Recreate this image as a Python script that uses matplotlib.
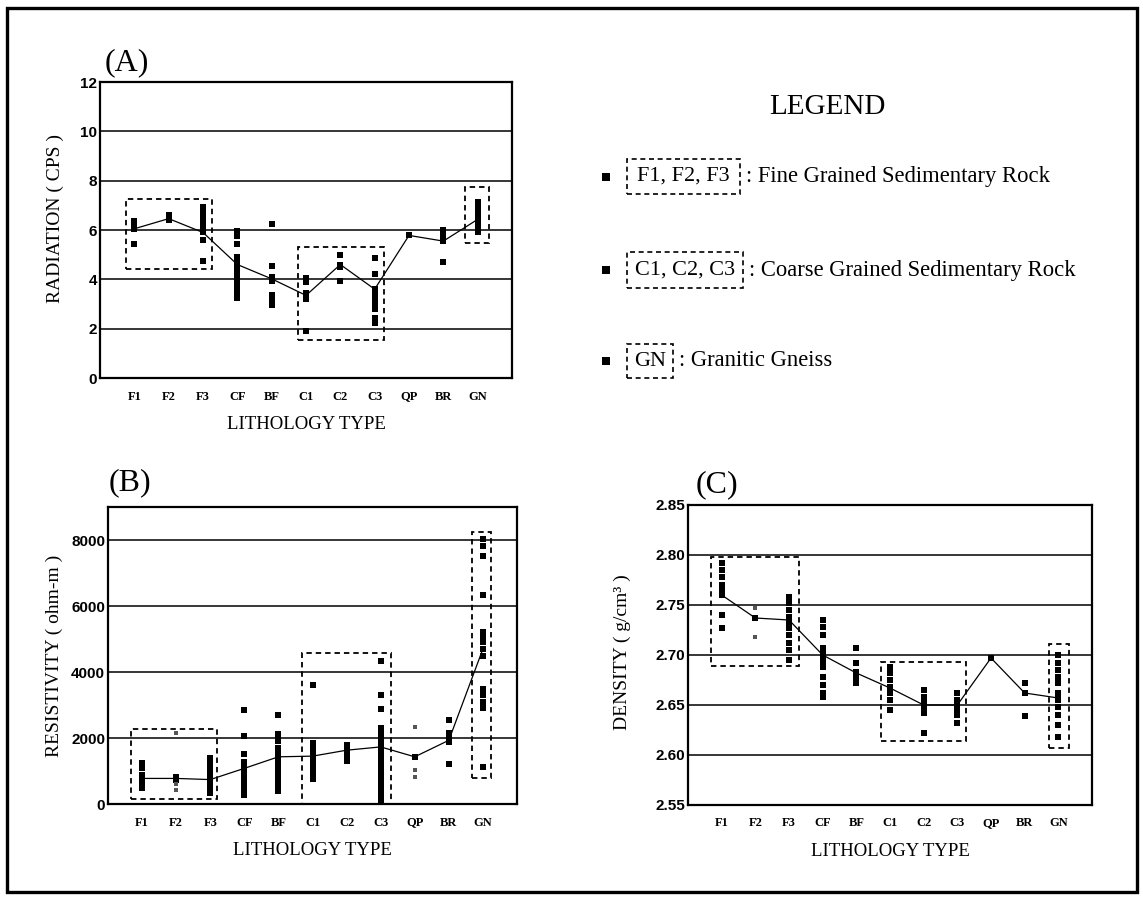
import numpy as np
import matplotlib
matplotlib.use('Agg')
import matplotlib.pyplot as plt
from matplotlib.patches import Rectangle
from matplotlib.lines import Line2D

W, H = 1143, 899
SERIF = 'Liberation Serif'
SANS = 'Liberation Sans'

categories = ['F1', 'F2', 'F3', 'CF', 'BF', 'C1', 'C2', 'C3', 'QP', 'BR', 'GN']

# ---------------- (A) Radiation (CPS) ----------------
radiation_points = [
    [6.35, 6.2, 6.05, 5.45],
    [6.6, 6.5, 6.4],
    [6.95, 6.75, 6.55, 6.35, 6.2, 6.0, 5.9, 5.6, 4.75],
    [5.95, 5.75, 5.45, 4.9, 4.75, 4.6, 4.45, 4.3, 4.05, 3.8, 3.6, 3.4, 3.25],
    [6.25, 4.55, 4.1, 3.95, 3.35, 3.15, 2.95],
    [4.05, 3.9, 3.45, 3.3, 3.2, 1.9],
    [5.0, 4.6, 4.5, 3.95],
    [4.85, 4.2, 3.6, 3.4, 3.2, 3.0, 2.8, 2.45, 2.25],
    [5.8],
    [6.0, 5.85, 5.6, 4.7],
    [7.15, 7.0, 6.85, 6.7, 6.5, 6.4, 6.2, 6.0, 5.9],
]
radiation_means = [6.05, 6.46, 5.9, 4.6, 4.02, 3.35, 4.6, 3.6, 5.78, 5.55, 6.43]
radiation_faint = {}
radiation_boxes = [(0.75, 3.27, 4.43, 7.27), (5.76, 8.28, 1.56, 5.32), (10.63, 11.33, 5.48, 7.74)]
radiation_ticks = [0, 2, 4, 6, 8, 10, 12]
radiation_ticklabels = ['0', '2', '4', '6', '8', '10', '12']

# ---------------- (B) Resistivity (ohm-m) ----------------
resistivity_points = [
    [1250, 1100, 880, 800, 720, 620, 500],
    [820, 780, 740],
    [1380, 1250, 1150, 980, 880, 780, 680, 560, 450, 320],
    [2850, 2060, 1520, 1270, 1150, 1050, 950, 850, 750, 650, 550, 450, 350, 270],
    [2700, 2130, 2000, 1900, 1700, 1550, 1400, 1300, 1150, 1000, 850, 700, 550, 400],
    [3620, 1850, 1700, 1600, 1500, 1400, 1300, 1200, 1100, 1000, 900, 750],
    [1800, 1700, 1600, 1500, 1400, 1300],
    [4330, 3290, 2880, 2300, 2150, 2000, 1850, 1700, 1550, 1400, 1250, 1100, 950,
     800, 650, 500, 350, 200, 80],
    [1430],
    [2540, 2140, 2000, 1880, 1200],
    [8020, 7820, 7520, 6320, 5200, 5050, 4900, 4500, 3480, 3300, 3100, 2900, 1120],
]
resistivity_means = [775, 775, 740, 1080, 1430, 1450, 1630, 1730, 1430, 1930, 4700]
resistivity_faint = {'F2': [2150, 600, 430], 'QP': [2330, 1030, 820]}
resistivity_boxes = [(0.67, 3.19, 140, 2285), (5.70, 8.29, 0, 4580), (10.67, 11.25, 775, 8240)]
resistivity_ticks = [0, 2000, 4000, 6000, 8000]
resistivity_ticklabels = ['0', '2000', '4000', '6000', '8000']

# ---------------- (C) Density (g/cm3) ----------------
density_points = [
    [2.792, 2.785, 2.778, 2.770, 2.765, 2.760, 2.740, 2.727],
    [2.737],
    [2.758, 2.752, 2.745, 2.738, 2.733, 2.727, 2.720, 2.712, 2.705, 2.695],
    [2.735, 2.728, 2.720, 2.707, 2.702, 2.697, 2.692, 2.688, 2.678, 2.670, 2.662, 2.658],
    [2.707, 2.692, 2.683, 2.678, 2.672],
    [2.688, 2.682, 2.675, 2.668, 2.662, 2.655, 2.645],
    [2.665, 2.658, 2.652, 2.647, 2.642, 2.622],
    [2.662, 2.655, 2.650, 2.645, 2.640, 2.632],
    [2.697],
    [2.672, 2.662, 2.639],
    [2.700, 2.692, 2.685, 2.678, 2.672, 2.662, 2.655, 2.648, 2.640, 2.630, 2.618],
]
density_means = [2.760, 2.737, 2.735, 2.700, 2.682, 2.667, 2.650, 2.650, 2.697, 2.662, 2.657]
density_faint = {'F2': [2.747, 2.718]}
density_boxes = [(0.68, 3.30, 2.689, 2.798), (5.73, 8.27, 2.614, 2.693), (10.72, 11.31, 2.607, 2.711)]
density_ticks = [2.55, 2.60, 2.65, 2.70, 2.75, 2.80, 2.85]
density_ticklabels = ['2.55', '2.60', '2.65', '2.70', '2.75', '2.80', '2.85']

legend_rows = [('F1, F2, F3', ': Fine Grained Sedimentary Rock'),
               ('C1, C2, C3', ': Coarse Grained Sedimentary Rock'),
               ('GN', ': Granitic Gneiss')]

fig = plt.figure(figsize=(W / 100, H / 100), dpi=100)
fig.patch.set_facecolor('white')


def fx(px):
    return px / W


def fy(py):
    return 1 - py / H


def make_axes(l, t, r, b):
    return fig.add_axes([fx(l), fy(b), fx(r) - fx(l), fy(t) - fy(b)])


def draw_panel(ax, points, means, faint, boxes, ylim, ticks, ticklabels,
               ylabel, ylabel_xy):
    x = np.arange(1, len(categories) + 1)
    for i, vals in enumerate(points):
        ax.plot([x[i]] * len(vals), vals, linestyle='none', marker='s', ms=4.6,
                color='black', mew=0, zorder=4)
    ax.plot(x, means, '-', color='black', lw=0.9, marker='s', ms=5, mew=0, zorder=5)
    for cat, vals in faint.items():
        i = categories.index(cat)
        ax.plot([x[i]] * len(vals), vals, linestyle='none', marker='s', ms=2.4,
                color='#555555', mew=0, zorder=4)
    for (x0, x1, y0, y1) in boxes:
        ax.add_patch(Rectangle((x0, y0), x1 - x0, y1 - y0, fill=False,
                               ls=(0, (3.0, 2.2)), lw=1.3, ec='black', zorder=3,
                               clip_on=False))
    ax.set_xlim(0, 12)
    ax.set_ylim(*ylim)
    ax.set_xticks(x)
    ax.set_xticklabels(categories, fontfamily=SERIF, fontweight='bold', fontsize=9)
    ax.set_yticks(ticks)
    ax.set_yticklabels(ticklabels, fontfamily=SANS, fontweight='bold', fontsize=11)
    ax.tick_params(axis='x', length=0, pad=9)
    ax.tick_params(axis='y', length=0, pad=2)
    for t in ticks:
        if ylim[0] < t < ylim[1]:
            ax.axhline(t, color='black', lw=1.1, zorder=1)
    for s in ax.spines.values():
        s.set_linewidth(1.6)
    ax.set_xlabel('LITHOLOGY TYPE', fontfamily=SERIF, fontsize=13.5, labelpad=10)
    ax.set_ylabel(ylabel, fontfamily=SERIF, fontsize=14)
    ax.yaxis.set_label_coords(*ylabel_xy)


axA = make_axes(100, 82, 512, 378)
draw_panel(axA, radiation_points, radiation_means, radiation_faint, radiation_boxes,
           (0, 12), radiation_ticks, radiation_ticklabels, 'RADIATION ( CPS )', (-0.088, 0.54))

axB = make_axes(108, 507, 517, 804)
draw_panel(axB, resistivity_points, resistivity_means, resistivity_faint, resistivity_boxes,
           (0, 9000), resistivity_ticks, resistivity_ticklabels, 'RESISTIVITY ( ohm-m )', (-0.11, 0.5))

axC = make_axes(688, 505, 1092, 805)
draw_panel(axC, density_points, density_means, density_faint, density_boxes,
           (2.55, 2.85), density_ticks, density_ticklabels,
           'DENSITY ( g/cm\u00b3 )', (-0.14, 0.51))

# panel titles
for label, (px, py) in [('(A)', (127, 63)), ('(B)', (130, 483)), ('(C)', (717, 485))]:
    fig.text(fx(px), fy(py), label, fontfamily=SERIF, fontsize=23, ha='center', va='center')

# legend
fig.text(fx(827), fy(107), 'LEGEND', fontfamily=SERIF, fontsize=21, ha='center', va='center')
legend_box_px = [(627, 740, 159, 194), (627, 743, 252, 288), (627, 673, 344, 378)]
for (code, desc), (bx0, bx1, by0, by1) in zip(legend_rows, legend_box_px):
    yc = (by0 + by1) / 2
    fig.add_artist(Line2D([fx(606)], [fy(yc)], marker='s', ms=6, color='black',
                          mew=0, linestyle='none', transform=fig.transFigure))
    fig.add_artist(Rectangle((fx(bx0), fy(by1)), fx(bx1) - fx(bx0), fy(by0) - fy(by1),
                             fill=False, ls=(0, (3.0, 2.2)), lw=1.2, ec='black',
                             transform=fig.transFigure))
    fig.text(fx((bx0 + bx1) / 2), fy(yc), code, fontfamily=SERIF, fontsize=16,
             ha='center', va='center')
    fig.text(fx(bx1 + 6), fy(yc), desc, fontfamily=SERIF, fontsize=16.3,
             ha='left', va='center')

# outer frame
fig.add_artist(Rectangle((fx(7), fy(892)), fx(1137) - fx(7), fy(8) - fy(892),
                         fill=False, lw=2.4, ec='black', transform=fig.transFigure))

fig.savefig('out.png', dpi=100)
